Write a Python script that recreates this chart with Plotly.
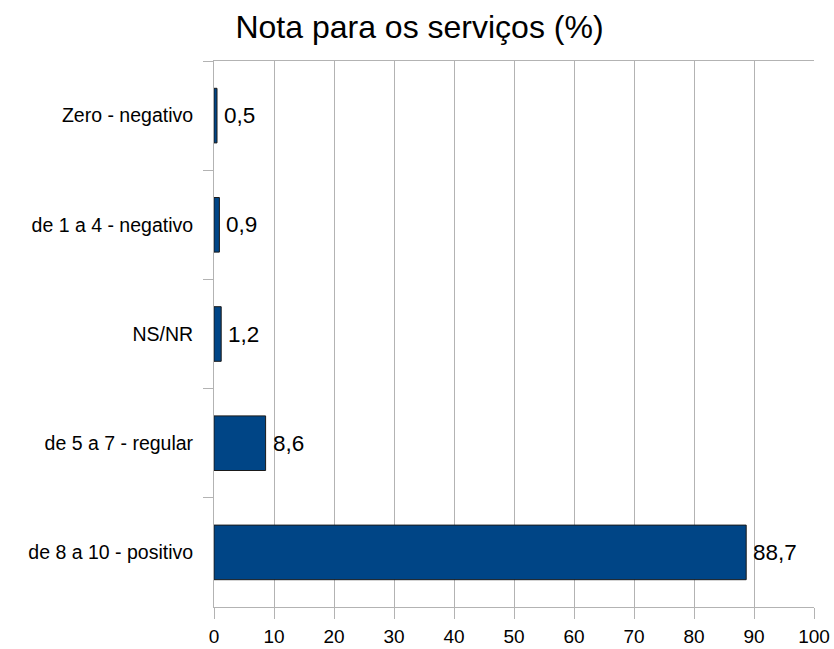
import plotly.graph_objects as go

# Service rating distribution (%)
categories = [
    "Zero - negativo",
    "de 1 a 4 - negativo",
    "NS/NR",
    "de 5 a 7 - regular",
    "de 8 a 10 - positivo",
]
values = [0.5, 0.9, 1.2, 8.6, 88.7]
value_labels = ["0,5", "0,9", "1,2", "8,6", "88,7"]
x_ticks = [0, 10, 20, 30, 40, 50, 60, 70, 80, 90, 100]

FONT = "Liberation Sans, Arial, sans-serif"
GRID = "#b3b3b3"

fig = go.Figure(
    go.Bar(
        x=values,
        y=categories,
        orientation="h",
        width=0.5,
        marker=dict(color="#004586", line=dict(color="#1a1a1a", width=1)),
        hoverinfo="x+y",
    )
)

# value labels just right of each bar end
for cat, val, lab in zip(categories, values, value_labels):
    fig.add_annotation(
        x=val, y=cat, text=lab, showarrow=False,
        xanchor="left", yanchor="middle", xshift=5,
        font=dict(family=FONT, size=22.5, color="#000000"),
    )

fig.update_layout(
    width=834,
    height=649,
    margin=dict(l=213.5, r=19.5, t=61.3, b=42.3, autoexpand=False),
    paper_bgcolor="white",
    plot_bgcolor="white",
    showlegend=False,
    font=dict(family=FONT, color="#000000"),
    title=dict(
        text="Nota para os serviços (%)",
        font=dict(family=FONT, size=32, color="#000000"),
        x=0.503, xref="container", xanchor="center",
        y=0.958, yref="container", yanchor="middle",
    ),
    xaxis=dict(
        range=[0, 100],
        tickvals=x_ticks,
        ticktext=[str(t) for t in x_ticks],
        showgrid=True, gridcolor=GRID, gridwidth=1,
        showline=True, linecolor=GRID, linewidth=1, mirror=True,
        ticks="outside", ticklen=11, tickcolor=GRID, tickwidth=1,
        ticklabelstandoff=1,
        tickfont=dict(family=FONT, size=19, color="#000000"),
        zeroline=False,
        automargin=False,
        fixedrange=True,
    ),
    yaxis=dict(
        type="category",
        categoryorder="array",
        categoryarray=categories,
        autorange="reversed",
        showgrid=False,
        showline=True, linecolor=GRID, linewidth=1,
        ticks="outside", ticklen=10, tickcolor=GRID, tickwidth=1,
        tickson="boundaries",
        ticklabelstandoff=16,
        tickfont=dict(family=FONT, size=19.5, color="#000000"),
        zeroline=False,
        automargin=False,
        fixedrange=True,
    ),
)

fig.write_html("out.html")
